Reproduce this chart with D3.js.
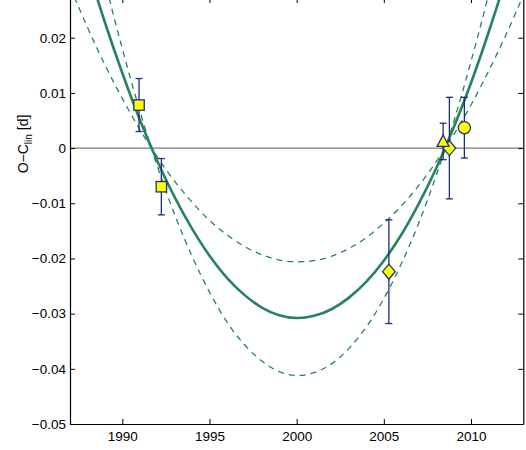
<!DOCTYPE html>
<html><head><meta charset="utf-8">
<script src="https://cdn.jsdelivr.net/npm/d3@7"></script>
<style>
body{margin:0;background:#fff}
svg{display:block}
text{font-family:"Liberation Sans",Arial,Helvetica,sans-serif;fill:#000}
</style>
</head><body>
<svg id="chart" width="526" height="450"></svg>
<script>
// ---- data ----
const fitYears = [1987,1988,1989,1990,1991,1992,1993,1994,1995,1996,1997,1998,1999,2000,
                  2001,2002,2003,2004,2005,2006,2007,2008,2009,2010,2011,2012,2013];
const fitBest  = [0.0438,0.0329,0.0228,0.0136,0.0052,-0.0023,-0.0089,-0.0146,-0.0195,-0.0235,-0.0266,-0.0289,-0.0303,-0.0308,
                  -0.0304,-0.0292,-0.0271,-0.0242,-0.0204,-0.0157,-0.0101,-0.0037,0.0037,0.0118,0.0209,0.0308,0.0416];
const fitUpper = [0.0292,0.0219,0.0151,0.0090,0.0034,-0.0016,-0.0060,-0.0098,-0.0131,-0.0157,-0.0178,-0.0193,-0.0203,-0.0206,
                  -0.0204,-0.0196,-0.0182,-0.0162,-0.0136,-0.0105,-0.0068,-0.0025,0.0024,0.0078,0.0139,0.0205,0.0277];
const fitLower = [0.0583,0.0437,0.0303,0.0180,0.0068,-0.0032,-0.0120,-0.0196,-0.0261,-0.0315,-0.0356,-0.0386,-0.0405,-0.0412,
                  -0.0407,-0.0391,-0.0363,-0.0324,-0.0273,-0.0210,-0.0136,-0.0050,0.0047,0.0157,0.0277,0.0409,0.0553];

const squareYears   = [1990.96, 1992.24];
const squareValues  = [0.0078, -0.0070];
const squareErrors  = [0.0048, 0.0051];
const diamondYears  = [2005.29, 2008.76];
const diamondValues = [-0.0224, 0.0000];
const diamondErrors = [0.0094, 0.0092];
const triangleYears  = [2008.40];
const triangleValues = [0.0012];
const triangleErrors = [0.0033];
const circleYears  = [2009.62];
const circleValues = [0.0037];
const circleErrors = [0.0055];

const xTicks = [1990, 1995, 2000, 2005, 2010];
const yTicks = [-0.05, -0.04, -0.03, -0.02, -0.01, 0, 0.01, 0.02];
const yTickLabels = ["\u22120.05","\u22120.04","\u22120.03","\u22120.02","\u22120.01","0","0.01","0.02"];

// ---- layout ----
const pL = 70, pR = 523.3, pT = -2, pB = 424;
const svg = d3.select("#chart");
const x = d3.scaleLinear().domain([1987, 2013]).range([pL, pR]);
const y = d3.scaleLinear().domain([-0.05, 0.0272]).range([pB, pT]);

const green = "#25845a", navy = "#1c2d80", yellow = "#ffff00";

svg.append("defs").append("clipPath").attr("id","clip")
  .append("rect").attr("x",pL).attr("y",pT).attr("width",pR-pL).attr("height",pB-pT);

const plot = svg.append("g").attr("clip-path","url(#clip)");

// zero line
plot.append("line").attr("x1",pL).attr("x2",pR).attr("y1",y(0)).attr("y2",y(0))
  .attr("stroke","#7a7a7a").attr("stroke-width",1.2);

const line = d3.line().x((d,i)=>x(fitYears[i])).y(d=>y(d)).curve(d3.curveNatural);
plot.append("path").attr("d",line(fitUpper)).attr("fill","none").attr("stroke",green)
  .attr("stroke-width",1.3).attr("stroke-dasharray","6,5");
plot.append("path").attr("d",line(fitLower)).attr("fill","none").attr("stroke",green)
  .attr("stroke-width",1.3).attr("stroke-dasharray","6,5");
plot.append("path").attr("d",line(fitBest)).attr("fill","none").attr("stroke",green)
  .attr("stroke-width",2.6);

// error bars
function errorBars(ys, vs, es){
  const g = plot.append("g").attr("stroke",navy).attr("stroke-width",1.3).attr("fill","none");
  ys.forEach((t,i)=>{
    const cx = x(t), y1 = y(vs[i]+es[i]), y2 = y(vs[i]-es[i]);
    g.append("line").attr("x1",cx).attr("x2",cx).attr("y1",y1).attr("y2",y2);
    g.append("line").attr("x1",cx-3.5).attr("x2",cx+3.5).attr("y1",y1).attr("y2",y1);
    g.append("line").attr("x1",cx-3.5).attr("x2",cx+3.5).attr("y1",y2).attr("y2",y2);
  });
}
errorBars(squareYears, squareValues, squareErrors);
errorBars(diamondYears, diamondValues, diamondErrors);
errorBars(triangleYears, triangleValues, triangleErrors);
errorBars(circleYears, circleValues, circleErrors);

const mk = plot.append("g").attr("fill",yellow).attr("stroke",navy).attr("stroke-width",1.3);
squareYears.forEach((t,i)=>{
  mk.append("rect").attr("x",x(t)-5.2).attr("y",y(squareValues[i])-5.2).attr("width",10.4).attr("height",10.4);
});
diamondYears.forEach((t,i)=>{
  const cx=x(t), cy=y(diamondValues[i]);
  mk.append("path").attr("d",`M${cx},${cy-7.5}L${cx+6.3},${cy}L${cx},${cy+7.5}L${cx-6.3},${cy}Z`);
});
triangleYears.forEach((t,i)=>{
  const cx=x(t), cy=y(triangleValues[i]);
  mk.append("path").attr("d",`M${cx},${cy-6.5}L${cx+6},${cy+5}L${cx-6},${cy+5}Z`);
});
circleYears.forEach((t,i)=>{
  mk.append("circle").attr("cx",x(t)).attr("cy",y(circleValues[i])).attr("r",6.1);
});

// axes (MATLAB style, ticks inward on all four sides)
const ax = svg.append("g");
ax.append("g").attr("transform",`translate(0,${pB})`)
  .call(d3.axisBottom(x).tickValues(xTicks).tickFormat(d3.format("d")).tickSize(-5).tickSizeOuter(0).tickPadding(7));
ax.append("g").attr("transform",`translate(0,${pT})`)
  .call(d3.axisTop(x).tickValues(xTicks).tickFormat("").tickSize(-5).tickSizeOuter(0));
ax.append("g").attr("transform",`translate(${pL},0)`)
  .call(d3.axisLeft(y).tickValues(yTicks).tickFormat((d,i)=>yTickLabels[i]).tickSize(-5).tickSizeOuter(0).tickPadding(4));
ax.append("g").attr("transform",`translate(${pR},0)`)
  .call(d3.axisRight(y).tickValues(yTicks).tickFormat("").tickSize(-5).tickSizeOuter(0));
ax.selectAll(".domain").attr("stroke","#000").attr("stroke-width",1.2);
ax.selectAll(".tick line").attr("stroke","#000").attr("stroke-width",1);
ax.selectAll("g").attr("font-size",null).attr("font-family",null);
ax.selectAll("text").attr("font-family","'Liberation Sans',Arial,sans-serif")
  .attr("font-size","13.5px").attr("fill","#000");

// y label
const yl = svg.append("text").attr("transform","translate(28,144) rotate(-90)")
  .attr("text-anchor","middle").attr("font-size","14px");
yl.append("tspan").text("O\u2212C");
yl.append("tspan").attr("font-size","10px").attr("dy","4").text("lin");
yl.append("tspan").attr("dy","-4").text(" [d]");
</script>
</body></html>
